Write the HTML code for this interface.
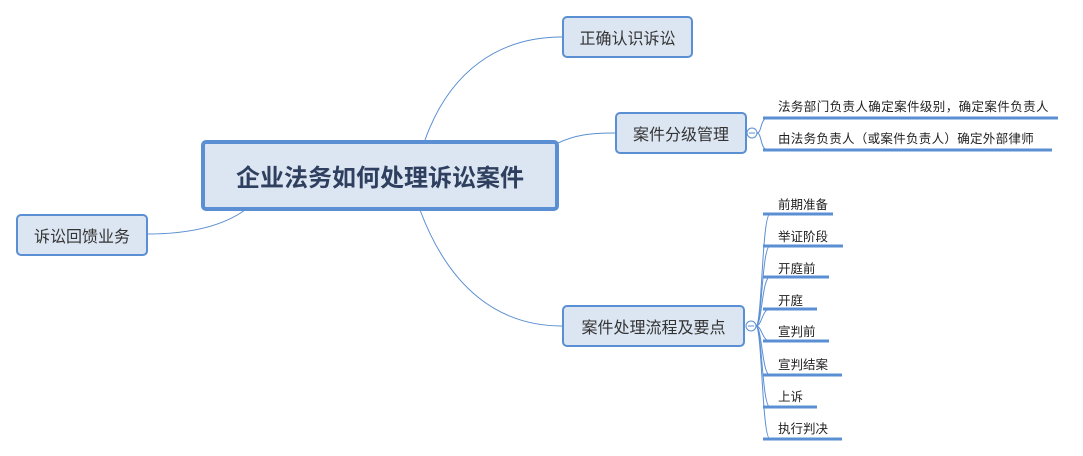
<!DOCTYPE html>
<html><head><meta charset="utf-8"><style>
body{margin:0;width:1083px;height:456px;background:#fff;position:relative;overflow:hidden;font-family:"Liberation Sans","Noto Sans CJK SC",sans-serif}
.n{position:absolute;box-sizing:border-box;border:2px solid #5b8fd3;background:#dce6f2;border-radius:5px;display:flex;align-items:center;justify-content:center;font-size:16px;color:#333}
.t{position:absolute;font-size:12.5px;color:#222;white-space:nowrap}
svg{position:absolute;left:0;top:0}
</style></head><body>
<svg width="1083" height="456" fill="none" stroke="#5b8fd3" stroke-width="1">
<path d="M425 140 C450 70 500 37 562 37"/>
<path d="M558 143 C575 135 590 133 615 133"/>
<path d="M420 210 C450 290 500 326 562 326"/>
<path d="M245 210 C220 228 185 234 147 234"/>
<g stroke-width="3"><path d="M763 118H1058"/><path d="M763 150H1052"/>
<path d="M763 214H833"/><path d="M763 246H843"/><path d="M763 277H829"/><path d="M763 309H817"/><path d="M763 341H829"/><path d="M763 375H842"/><path d="M763 407H817"/><path d="M763 439H842"/></g>
<path d="M757 133 C762 133 760 118 768 118"/><path d="M757 133 C762 133 760 150 768 150"/>
<path d="M756 326 C762 326 762 214 770 214"/><path d="M756 326 C762 326 762 246 770 246"/><path d="M756 326 C762 326 762 277 770 277"/><path d="M756 326 C762 326 762 309 770 309"/><path d="M756 326 C762 326 762 341 770 341"/><path d="M756 326 C762 326 762 375 770 375"/><path d="M756 326 C762 326 762 407 770 407"/><path d="M756 326 C762 326 762 439 770 439"/>
<circle cx="752" cy="133" r="5" fill="#fff"/><path d="M749 133h6"/>
<circle cx="751" cy="326" r="5" fill="#fff"/><path d="M748 326h6"/>
</svg>
<div class="n" style="left:201px;top:140px;width:358px;height:71px;border-width:4px;font-size:24px;font-weight:bold;color:#2f3f5f">企业法务如何处理诉讼案件</div>
<div class="n" style="left:562px;top:16px;width:131px;height:42px">正确认识诉讼</div>
<div class="n" style="left:615px;top:112px;width:132px;height:42px">案件分级管理</div>
<div class="n" style="left:562px;top:305px;width:183px;height:42px">案件处理流程及要点</div>
<div class="n" style="left:16px;top:214px;width:132px;height:42px">诉讼回馈业务</div>
<div class="t" style="left:778px;top:96px;letter-spacing:0.4px">法务部门负责人确定案件级别，确定案件负责人</div>
<div class="t" style="left:778px;top:128px;letter-spacing:0.3px">由法务负责人（或案件负责人）确定外部律师</div>
<div class="t" style="left:778px;top:194px">前期准备</div>
<div class="t" style="left:778px;top:226px">举证阶段</div>
<div class="t" style="left:778px;top:258px">开庭前</div>
<div class="t" style="left:778px;top:290px">开庭</div>
<div class="t" style="left:778px;top:321px">宣判前</div>
<div class="t" style="left:778px;top:354px">宣判结案</div>
<div class="t" style="left:778px;top:386px">上诉</div>
<div class="t" style="left:778px;top:418px">执行判决</div>
</body></html>
